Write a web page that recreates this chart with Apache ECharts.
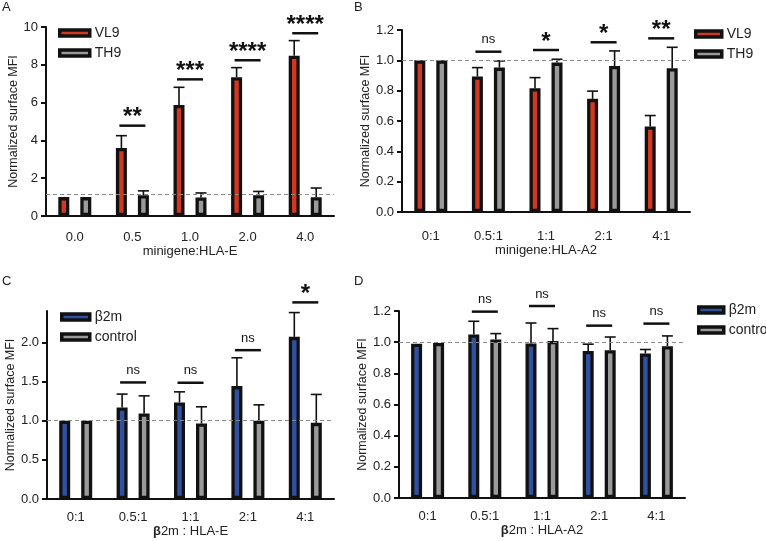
<!DOCTYPE html>
<html><head><meta charset="utf-8">
<script src="https://cdn.jsdelivr.net/npm/echarts@6/dist/echarts.min.js"></script>
<style>html,body{margin:0;padding:0;background:#fff}#c{width:766px;height:541px}</style>
</head><body><div id="c"></div>
<script>
// ---- Data ----
const categoriesA = ['0.0', '0.5', '1.0', '2.0', '4.0'];
const vl9A = [1.0, 3.6, 5.87, 7.34, 8.48];
const vl9AErr = [1.0, 4.25, 6.81, 7.85, 9.28];
const th9A = [1.0, 1.1, 0.98, 1.1, 0.99];
const th9AErr = [1.0, 1.33, 1.22, 1.3, 1.48];
const sigA = ['', '**', '***', '****', '****'];
const sigAPos = [null, 4.78, 7.23, 8.24, 9.67];
const refA = 1.15;

const categoriesB = ['0:1', '0.5:1', '1:1', '2:1', '4:1'];
const vl9B = [1.0, 0.893, 0.816, 0.746, 0.564];
const vl9BErr = [1.0, 0.952, 0.886, 0.797, 0.636];
const th9B = [1.0, 0.952, 0.985, 0.963, 0.948];
const th9BErr = [1.0, 0.996, 1.007, 1.062, 1.086];
const sigB = ['', 'ns', '*', '*', '**'];
const sigBPos = [null, 1.057, 1.068, 1.119, 1.145];
const refB = 1.0;

const categoriesC = ['0:1', '0.5:1', '1:1', '2:1', '4:1'];
const b2mC = [1.0, 1.169, 1.233, 1.441, 2.07];
const b2mCErr = [1.0, 1.339, 1.368, 1.803, 2.38];
const ctrlC = [1.0, 1.092, 0.964, 0.998, 0.972];
const ctrlCErr = [1.0, 1.317, 1.177, 1.202, 1.335];
const sigC = ['', 'ns', 'ns', 'ns', '*'];
const sigCPos = [null, 1.488, 1.484, 1.90, 2.51];
const refC = 1.0;
const ticksC = [0, 0.5, 1.0, 1.5, 2.0];

const categoriesD = ['0:1', '0.5:1', '1:1', '2:1', '4:1'];
const b2mD = [0.99, 1.049, 0.991, 0.944, 0.927];
const b2mDErr = [0.99, 1.134, 1.123, 0.987, 0.953];
const ctrlD = [0.995, 1.017, 1.008, 0.948, 0.974];
const ctrlDErr = [0.995, 1.055, 1.087, 1.033, 1.04];
const sigD = ['', 'ns', 'ns', 'ns', 'ns'];
const sigDPos = [null, 1.196, 1.232, 1.106, 1.119];
const refD = 1.0;

// ---- Style ----
const FONT = 'Liberation Sans, Arial, Helvetica, sans-serif';
const RED = '#d0381f', GRAY = '#9a9a9a', BLUE = '#3050a2', INK = '#111';
const BW = 11, OFF = 11;

function errSeries(grid, vals, errs, side) {
  return {
    type: 'custom', xAxisIndex: grid, yAxisIndex: grid, z: 1, silent: true,
    data: vals.map((v, i) => [i, v, errs[i]]),
    encode: { x: 0, y: [1, 2] },
    renderItem(params, api) {
      const i = api.value(0), v = api.value(1), e = api.value(2);
      if (!(e > v)) return null;
      const p0 = api.coord([i, v]), p1 = api.coord([i, e]);
      const x = p0[0] + side * OFF;
      return { type: 'group', children: [
        { type: 'line', shape: { x1: x, y1: p0[1], x2: x, y2: p1[1] }, style: { stroke: INK, lineWidth: 1.6 } },
        { type: 'line', shape: { x1: x - 5.5, y1: p1[1], x2: x + 5.5, y2: p1[1] }, style: { stroke: INK, lineWidth: 1.6 } }
      ]};
    }
  };
}

function sigSeries(grid, labels, pos) {
  const items = [], texts = [];
  labels.forEach((t, i) => { if (t) { items.push([i, pos[i]]); texts.push(t); } });
  return {
    type: 'custom', xAxisIndex: grid, yAxisIndex: grid, silent: true, z: 5, clip: false,
    data: items, encode: { x: 0, y: 1 },
    renderItem(params, api) {
      const p = api.coord([api.value(0), api.value(1)]);
      const t = texts[params.dataIndex];
      const star = t.indexOf('*') >= 0;
      return { type: 'group', children: [
        { type: 'line', shape: { x1: p[0] - 13, y1: p[1], x2: p[0] + 13, y2: p[1] }, style: { stroke: INK, lineWidth: 2.5 } },
        { type: 'text', x: p[0], y: p[1] - (star ? 8 : 12),
          style: { text: t, align: 'center', verticalAlign: 'middle', fontFamily: FONT,
                   fontSize: star ? 24 : 13, fontWeight: star ? 'bold' : 'normal', fill: INK } }
      ]};
    }
  };
}

function barSeries(name, grid, vals, color, ref) {
  const s = { type: 'bar', name, xAxisIndex: grid, yAxisIndex: grid, data: vals,
    barWidth: BW, barGap: '100%', z: 2,
    itemStyle: { color, borderColor: INK, borderWidth: 3.3 } };
  if (ref != null) {
    s.markLine = { silent: true, symbol: 'none', label: { show: false },
      lineStyle: { type: [4, 3], color: '#8a8a8a', width: 1 }, data: [{ yAxis: ref }] };
  }
  return s;
}

function xAx(grid, cats, name, margin, nameGap) {
  return { type: 'category', gridIndex: grid, data: cats,
    axisLine: { lineStyle: { color: INK, width: 2 } },
    axisTick: { alignWithLabel: true, length: 7, lineStyle: { color: INK, width: 2 } },
    axisLabel: { color: '#222', fontSize: 13, fontFamily: FONT, margin },
    name, nameLocation: 'middle', nameGap,
    nameTextStyle: { color: '#222', fontSize: 13, fontFamily: FONT, rich: { b: { fontWeight: 'bold', fontSize: 13, fontFamily: FONT, color: '#222' } } } };
}

function yAx(grid, min, max, interval, fmt, custom) {
  const a = { type: 'value', gridIndex: grid, min, max, interval,
    splitLine: { show: false },
    axisLine: { show: true, lineStyle: { color: INK, width: 2 } },
    axisTick: { show: true, length: 5, lineStyle: { color: INK, width: 2 } },
    axisLabel: { color: '#222', fontSize: 13, fontFamily: FONT, margin: 8, formatter: fmt },
    name: 'Normalized surface MFI', nameLocation: 'middle', nameGap: 21,
    nameTextStyle: { color: '#222', fontSize: 12.5, fontFamily: FONT } };
  if (custom) { a.axisLabel.customValues = custom; a.axisTick.customValues = custom; }
  return a;
}

function legend(left, top, names, w) {
  return { left, top, padding: 0, orient: 'vertical', itemWidth: w, itemHeight: 6, itemGap: 6, icon: 'rect',
    data: names, selectedMode: false,
    itemStyle: { borderColor: INK, borderWidth: 3.5 },
    textStyle: { color: '#222', fontSize: 14, fontFamily: FONT } };
}

const f1 = v => v.toFixed(1);
const f0 = v => String(v);
const titleStyle = { fontSize: 13, fontWeight: 'normal', color: '#222', fontFamily: FONT };

const option = {
  animation: false,
  textStyle: { fontFamily: FONT },
  title: [
    { text: 'A', left: 2, top: 1, padding: 0, textStyle: titleStyle },
    { text: 'B', left: 354, top: 1, padding: 0, textStyle: titleStyle },
    { text: 'C', left: 2, top: 275, padding: 0, textStyle: titleStyle },
    { text: 'D', left: 354, top: 275, padding: 0, textStyle: titleStyle }
  ],
  legend: [
    legend(58, 26, ['VL9', 'TH9'], 30),
    legend(694, 27, ['VL9', 'TH9'], 26),
    legend(60, 310, ['β2m', 'control'], 28),
    legend(697, 303, ['β2m', 'control'], 25)
  ],
  grid: [
    { left: 46, top: 27, width: 288, height: 189 },
    { left: 402, top: 30, width: 288, height: 182 },
    { left: 47, top: 311, width: 287, height: 188 },
    { left: 399, top: 311, width: 286, height: 187 }
  ],
  xAxis: [
    xAx(0, categoriesA, 'minigene:HLA-E', 15, 26),
    xAx(1, categoriesB, 'minigene:HLA-A2', 18, 31),
    xAx(2, categoriesC, '{b|β}2m : HLA-E', 12, 26),
    xAx(3, categoriesD, '{b|β}2m : HLA-A2', 12, 26)
  ],
  yAxis: [
    yAx(0, 0, 10, 2, f0),
    yAx(1, 0, 1.2, 0.2, f1),
    yAx(2, 0, 2.4, 0.5, f1, ticksC),
    yAx(3, 0, 1.2, 0.2, f1)
  ],
  series: [
    errSeries(0, vl9A, vl9AErr, -1), errSeries(0, th9A, th9AErr, 1),
    barSeries('VL9', 0, vl9A, RED, refA), barSeries('TH9', 0, th9A, GRAY),
    sigSeries(0, sigA, sigAPos),
    errSeries(1, vl9B, vl9BErr, -1), errSeries(1, th9B, th9BErr, 1),
    barSeries('VL9', 1, vl9B, RED, refB), barSeries('TH9', 1, th9B, GRAY),
    sigSeries(1, sigB, sigBPos),
    errSeries(2, b2mC, b2mCErr, -1), errSeries(2, ctrlC, ctrlCErr, 1),
    barSeries('β2m', 2, b2mC, BLUE, refC), barSeries('control', 2, ctrlC, GRAY),
    sigSeries(2, sigC, sigCPos),
    errSeries(3, b2mD, b2mDErr, -1), errSeries(3, ctrlD, ctrlDErr, 1),
    barSeries('β2m', 3, b2mD, BLUE, refD), barSeries('control', 3, ctrlD, GRAY),
    sigSeries(3, sigD, sigDPos)
  ]
};
const chart = echarts.init(document.getElementById('c'), null, { renderer: 'canvas' });
chart.setOption(option);
</script></body></html>
